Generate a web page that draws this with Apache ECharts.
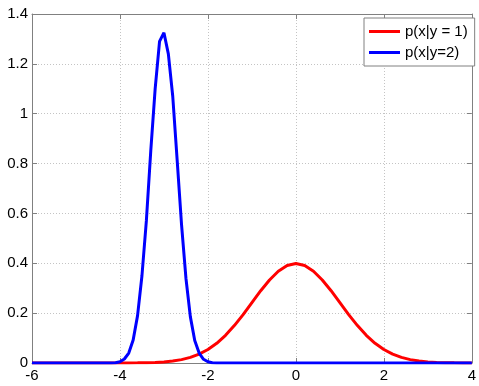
<!DOCTYPE html>
<html>
<head>
<meta charset="utf-8">
<script src="https://cdn.jsdelivr.net/npm/echarts@6/dist/echarts.min.js"></script>
<style>
  html, body { margin: 0; padding: 0; background: #fff; }
  #chart { width: 479px; height: 386px; }
</style>
</head>
<body>
<div id="chart"></div>
<script>
// Class-conditional densities p(x|y=1) and p(x|y=2)
const xTicks = [-6, -4, -2, 0, 2, 4];
const yTicks = [0, 0.2, 0.4, 0.6, 0.8, 1, 1.2, 1.4];

// p(x|y = 1): broad bump centred at 0
const redX = [-6, -5, -4.4, -4, -3.8, -3.6, -3.4, -3.2, -3, -2.8, -2.6, -2.4, -2.2, -2, -1.8, -1.6, -1.4, -1.2, -1, -0.8, -0.6, -0.4, -0.2, 0,
              0.2, 0.4, 0.6, 0.8, 1, 1.2, 1.4, 1.6, 1.8, 2, 2.2, 2.4, 2.6, 2.8, 3, 3.2, 3.4, 3.6, 3.8, 4];
const redY = [0, 0, 0, 0.0001, 0.0003, 0.0006, 0.0012, 0.0024, 0.0044, 0.0079, 0.0136, 0.0224, 0.0355, 0.054, 0.079, 0.111, 0.150, 0.194, 0.242, 0.290, 0.333, 0.368, 0.391, 0.399,
              0.391, 0.368, 0.333, 0.290, 0.242, 0.194, 0.150, 0.111, 0.079, 0.054, 0.0355, 0.0224, 0.0136, 0.0079, 0.0044, 0.0024, 0.0012, 0.0006, 0.0003, 0.0001];

// p(x|y=2): narrow, tall peak near -3
const blueX = [-6, -4.4, -4.2, -4.1, -4, -3.9, -3.8, -3.7, -3.6, -3.5, -3.4, -3.3, -3.2, -3.1, -3, -2.9, -2.8, -2.7, -2.6, -2.5, -2.4, -2.3, -2.2, -2.1, -2, -1.9, -1.8, -1.6, 4];
const blueY = [0, 0, 0.0001, 0.001, 0.005, 0.016, 0.04, 0.092, 0.19, 0.35, 0.57, 0.85, 1.10, 1.29, 1.325, 1.24, 1.07, 0.815, 0.555, 0.34, 0.186, 0.09, 0.04, 0.015, 0.005, 0.001, 0.0002, 0, 0];

const seriesNames = ['p(x|y = 1)', 'p(x|y=2)'];

const pairs = (xs, ys) => xs.map((x, i) => [x, ys[i]]);

const boxColor = '#808080';
const gridColor = '#c4c4c4';
const font = 'Liberation Sans, Arial, Helvetica, sans-serif';

const chart = echarts.init(document.getElementById('chart'), null, { renderer: 'canvas' });

const baseX = {
  type: 'value', min: xTicks[0], max: xTicks[xTicks.length - 1], interval: 2,
  axisLine: { show: true, onZero: false, lineStyle: { color: boxColor, width: 1 } },
  axisTick: { show: true, inside: true, length: 5, lineStyle: { color: boxColor } },
  splitLine: { show: false }
};
const baseY = {
  type: 'value', min: yTicks[0], max: yTicks[yTicks.length - 1], interval: 0.2,
  axisLine: { show: true, onZero: false, lineStyle: { color: boxColor, width: 1 } },
  axisTick: { show: true, inside: true, length: 5, lineStyle: { color: boxColor } },
  splitLine: { show: false }
};

chart.setOption({
  animation: false,
  backgroundColor: '#fff',
  grid: { left: 32, right: 3, top: 14, bottom: 23, containLabel: false },
  xAxis: [
    Object.assign({}, baseX, {
      position: 'bottom',
      axisLabel: { color: '#000', fontSize: 15, fontFamily: font, margin: 5 },
      splitLine: { show: true, lineStyle: { color: gridColor, type: [1, 2], width: 1 } }
    }),
    Object.assign({}, baseX, { position: 'top', axisLabel: { show: false } })
  ],
  yAxis: [
    Object.assign({}, baseY, {
      position: 'left',
      axisLabel: { color: '#000', fontSize: 15, fontFamily: font, margin: 4,
                   formatter: v => String(Math.round(v * 10) / 10) },
      splitLine: { show: true, lineStyle: { color: gridColor, type: [1, 2], width: 1 } }
    }),
    Object.assign({}, baseY, { position: 'right', axisLabel: { show: false } })
  ],
  legend: {
    orient: 'vertical',
    left: 364, top: 18,
    backgroundColor: '#fff',
    borderColor: boxColor, borderWidth: 1,
    padding: [6, 7, 6, 5],
    itemGap: 6,
    itemWidth: 31, itemHeight: 3,
    icon: 'rect',
    textStyle: { color: '#000', fontSize: 15, fontFamily: font },
    data: seriesNames
  },
  series: [
    {
      name: seriesNames[0], type: 'line', data: pairs(redX, redY),
      showSymbol: false, symbol: 'none', smooth: false,
      lineStyle: { color: '#ff0000', width: 3 }, itemStyle: { color: '#ff0000' }
    },
    {
      name: seriesNames[1], type: 'line', data: pairs(blueX, blueY),
      showSymbol: false, symbol: 'none', smooth: false,
      lineStyle: { color: '#0000ff', width: 3 }, itemStyle: { color: '#0000ff' }
    }
  ]
});
</script>
</body>
</html>
